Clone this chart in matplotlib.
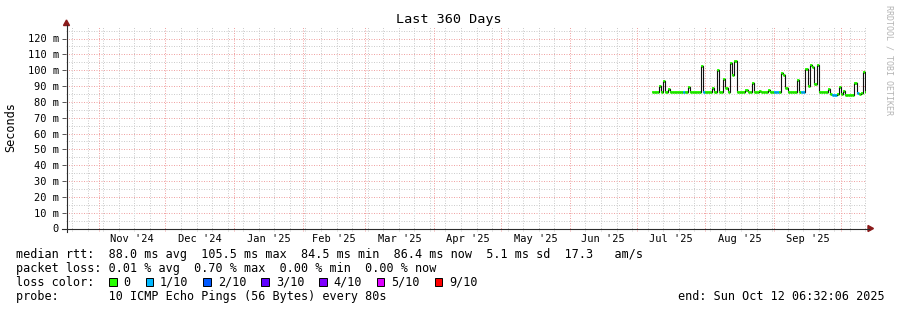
import matplotlib
matplotlib.use("Agg")
import matplotlib.pyplot as plt
import matplotlib.dates as mdates
from matplotlib.patches import Rectangle, Polygon
from datetime import datetime, timedelta

ANCHO, ALTO = 897, 310
MONO = "DejaVu Sans Mono"
plt.rcParams['font.family'] = [MONO, 'DejaVu Sans']

# ---- datos ----
inicio = datetime(2024, 10, 17, 6, 32, 6)
fin = datetime(2025, 10, 12, 6, 32, 6)
primer_dia = datetime(2025, 7, 8)

# mediana diaria del rtt (ms), desde el 8 de julio
mediana_ms = [
    86.0, 86.0, 86.1, 89.9, 86.3, 93.0, 86.0, 88.4, 86.0, 86.0,
    86.0, 86.0, 86.0, 86.0, 86.0, 86.0, 89.5, 86.0, 86.0, 86.0,
    86.0, 86.0, 102.5, 86.0, 86.0, 86.0, 86.0, 89.0, 86.2, 100.0,
    86.0, 86.0, 94.3, 88.5, 86.0, 104.4, 97.0, 105.5, 86.0, 86.0,
    86.0, 86.0, 87.5, 86.0, 86.0, 92.2, 86.0, 86.0, 86.8, 86.0,
    86.5, 86.0, 87.5, 86.0, 86.0, 86.0, 86.0, 86.0, 97.9, 97.0,
    88.5, 86.0, 86.0, 86.0, 86.0, 94.1, 86.0, 86.0, 86.0, 100.5,
    90.0, 103.0, 102.0, 91.0, 103.0, 86.0, 86.0, 86.0, 86.0, 88.4,
    84.8, 84.6, 84.6, 84.7, 89.3, 84.8, 87.0, 84.6, 84.5, 84.6,
    84.6, 91.6, 85.3, 85.0, 85.5, 99.0, 86.4,
]
# dias (indice) con 1 de 10 pings perdidos, el resto sin perdida
dias_con_perdida = [14, 23, 55, 56, 67, 68, 81, 82, 92]

etiquetas_meses = ["Nov '24", "Dec '24", "Jan '25", "Feb '25", "Mar '25", "Apr '25",
                   "May '25", "Jun '25", "Jul '25", "Aug '25", "Sep '25"]
valores_eje_y = [0, 10, 20, 30, 40, 50, 60, 70, 80, 90, 100, 110, 120]
etiquetas_eje_y = ["0"] + [f"{v} m" for v in valores_eje_y[1:]]

colores_perdida = ["#26ff00", "#00b8ff", "#0059ff", "#5e00ff", "#7e00ff", "#dd00ff", "#ff0000"]
nombres_perdida = ["0", "1/10", "2/10", "3/10", "4/10", "5/10", "9/10"]

fila_rtt = "median rtt:  88.0 ms avg  105.5 ms max  84.5 ms min  86.4 ms now  5.1 ms sd  17.3   am/s"
fila_perdida = "packet loss: 0.01 % avg  0.70 % max  0.00 % min  0.00 % now"
fila_sonda = "probe:       10 ICMP Echo Pings (56 Bytes) every 80s"
texto_fin = "end: Sun Oct 12 06:32:06 2025"

# ---- figura ----
fig = plt.figure(figsize=(ANCHO / 100, ALTO / 100), dpi=100)
fig.patch.set_facecolor("white")

px_por_ms = 190 / 120
ax = fig.add_axes([66 / ANCHO, 1 - 228.5 / ALTO, 800 / ANCHO, 202 / ALTO])
ax.set_xlim(inicio, fin)
ax.set_ylim(0, 202 / px_por_ms)
for s in ax.spines.values():
    s.set_visible(False)

gris = "#cdcdcd"
rojo = "#f0a4a4"
punteado = (0, (1, 1.5))

# grilla horizontal
for v in range(5, 126, 5):
    if v % 10:
        ax.axhline(v, color=gris, lw=0.72, ls=punteado, zorder=1)
for v in range(10, 121, 10):
    ax.axhline(v, color=rojo, lw=0.72, ls=punteado, zorder=1)

# grilla vertical: semanas (domingos) y meses
meses = [datetime(2024 + (10 + i) // 12, (10 + i) % 12 + 1, 1) for i in range(12)]
dia = datetime(2024, 10, 20)
while dia < fin:
    if dia.day != 1:
        ax.axvline(dia, ymin=-0.012, color=gris, lw=0.72, ls=punteado, zorder=1, clip_on=False)
    dia += timedelta(days=7)
for m in meses:
    ax.axvline(m, ymin=-0.012, color=rojo, lw=0.72, ls=punteado, zorder=1, clip_on=False)

# mediana: trazos coloreados segun perdida y linea negra que los une
bordes = [primer_dia + timedelta(days=i) for i in range(len(mediana_ms))] + [fin]
x = mdates.date2num(bordes)
colores = [colores_perdida[1] if i in dias_con_perdida else colores_perdida[0]
           for i in range(len(mediana_ms))]
ax.hlines(mediana_ms, x[:-1], x[1:], colors=colores, lw=2.0, zorder=4)
ax.stairs(mediana_ms, x, baseline=None, color="#111111", lw=0.8, zorder=5)
ax.hlines(mediana_ms, x[:-1], x[1:], colors=colores, lw=1.2, zorder=6)

# etiquetas de ejes
centros = [meses[i] + (meses[i + 1] - meses[i]) / 2 for i in range(len(etiquetas_meses))]
ax.set_xticks(centros, etiquetas_meses)
ax.tick_params(axis="x", length=0, pad=4, labelsize=7.5)
ax.set_yticks(valores_eje_y, etiquetas_eje_y)
ax.tick_params(axis="y", length=3, width=0.7, color="#555555", pad=2, labelsize=7.5)

# ---- capa en pixeles para ejes, flechas y leyenda ----
ov = fig.add_axes([0, 0, 1, 1])
ov.set_xlim(0, ANCHO)
ov.set_ylim(ALTO, 0)
ov.axis("off")
ov.patch.set_visible(False)

color_eje = "#2c2c2c"
color_flecha = "#8b1a1a"
ov.plot([62, 869], [228.5, 228.5], color=color_eje, lw=0.8)
ov.plot([66.5, 66.5], [232, 25], color=color_eje, lw=0.8)
ov.add_patch(Polygon([[868, 225.5], [873.5, 228.5], [868, 231.5]], color=color_flecha))
ov.add_patch(Polygon([[63.5, 25.5], [66.5, 20], [69.5, 25.5]], color=color_flecha))

ov.text(448.5, 19.8, "Last 360 Days", ha="center", va="center", fontsize=9.7)
ov.text(11, 127.5, "Seconds", rotation=90, ha="center", va="center", fontsize=8.6)
ov.text(888.5, 60, "RRDTOOL / TOBI OETIKER", rotation=270, ha="center", va="center",
        fontsize=6, color="#b4b4b4")

tam = 8.5
ov.text(15.5, 254.3, fila_rtt, va="center", fontsize=tam)
ov.text(15.5, 268.3, fila_perdida, va="center", fontsize=tam)
ov.text(15.5, 282.3, "loss color:", va="center", fontsize=tam)
ov.text(15.5, 296.3, fila_sonda, va="center", fontsize=tam)
ov.text(678, 296.3, texto_fin, va="center", fontsize=tam)

avance = 7.08
xc = 109
for color, nombre in zip(colores_perdida, nombres_perdida):
    ov.add_patch(Rectangle((xc, 278.3), 7.5, 8, facecolor=color, edgecolor="black", lw=0.7))
    xt = xc + 14.5
    ov.text(xt, 282.3, nombre, va="center", fontsize=tam)
    xc = xt + len(nombre) * avance + 15

fig.savefig("out.png", dpi=100)
